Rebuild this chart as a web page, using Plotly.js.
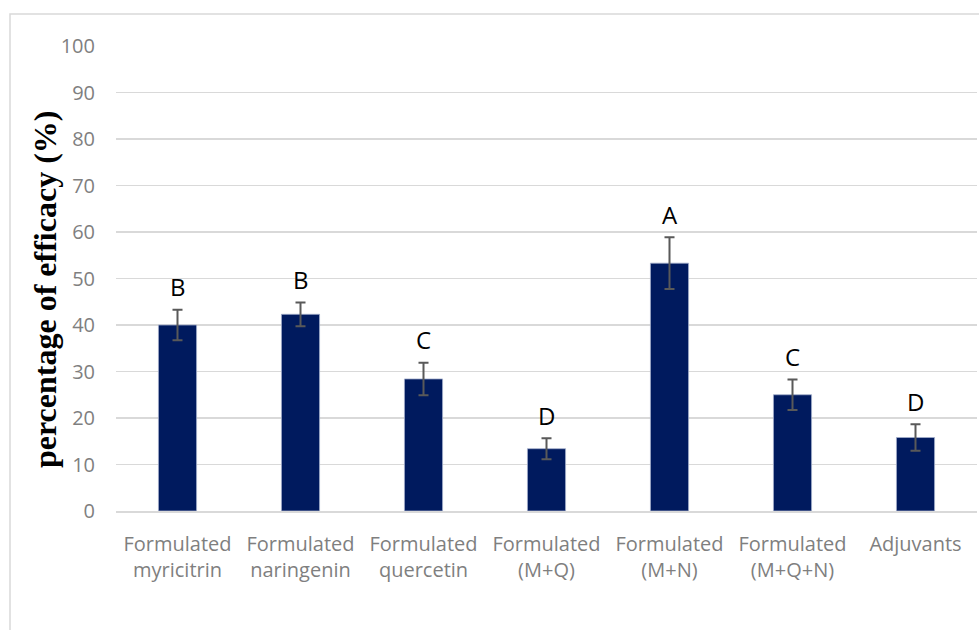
<!DOCTYPE html>
<html>
<head>
<meta charset="utf-8">
<script src="https://cdn.plot.ly/plotly-3.0.1.min.js"></script>
<style>html,body{margin:0;padding:0;background:#fff;}#chart{width:979px;height:630px;}</style>
</head>
<body>
<div id="chart"></div>
<script>
const categories = [
  "Formulated<br>myricitrin",
  "Formulated<br>naringenin",
  "Formulated<br>quercetin",
  "Formulated<br>(M+Q)",
  "Formulated<br>(M+N)",
  "Formulated<br>(M+Q+N)",
  "Adjuvants"
];
const efficacy = [40.0, 42.3, 28.4, 13.4, 53.3, 25.0, 15.8];
const errorSD = [3.3, 2.55, 3.5, 2.25, 5.55, 3.3, 2.85];
const groupLetters = ["B", "B", "C", "D", "A", "C", "D"];
const yTicks = [0, 10, 20, 30, 40, 50, 60, 70, 80, 90, 100];

const L = 116, R = 977, T = 46, B = 511, W = 979, H = 630;
const pw = R - L, ph = B - T;
const px = x => (x - L) / pw;
const py = y => (B - y) / ph;

const trace = {
  type: "bar",
  x: categories,
  y: efficacy,
  width: 0.31,
  marker: {color: "#001a5e", line: {color: "#a3aecb", width: 0.8}},
  error_y: {type: "data", array: errorSD, visible: true, color: "#595959", thickness: 2, width: 5},
  hoverinfo: "skip"
};

const annotations = categories.map((c, i) => ({
  x: c, y: efficacy[i] + errorSD[i], xref: "x", yref: "y",
  text: groupLetters[i], showarrow: false,
  yanchor: "middle", yshift: 23,
  font: {family: "Open Sans, sans-serif", size: 24, color: "#000"}
}));
annotations.push({
  xref: "paper", yref: "paper", x: px(45), y: py(290),
  text: "percentage of efficacy (%)", textangle: -90, showarrow: false,
  xanchor: "center", yanchor: "middle",
  font: {family: "Liberation Serif, Times New Roman, serif", size: 32, color: "#000", weight: "bold"}
});

const layout = {
  width: W, height: H,
  margin: {l: L, r: W - R, t: T, b: H - B, pad: 0},
  paper_bgcolor: "#fff", plot_bgcolor: "#fff",
  showlegend: false,
  bargap: 0.69,
  xaxis: {
    type: "category",
    showgrid: false, showline: true, linecolor: "#d9d9d9", linewidth: 1.5,
    ticks: "", ticklabelstandoff: 14,
    tickfont: {family: "Open Sans, sans-serif", size: 20, color: "#7f7f7f"},
    fixedrange: true
  },
  yaxis: {
    range: [0, 100], tickvals: yTicks, ticktext: yTicks.map(String),
    showgrid: true, gridcolor: "#d9d9d9", gridwidth: 1.5,
    zeroline: false, showline: false, ticks: "", ticklabelstandoff: 20,
    tickfont: {family: "Open Sans, sans-serif", size: 20, color: "#7f7f7f"},
    fixedrange: true
  },
  annotations: annotations,
  shapes: [{
    type: "rect", xref: "paper", yref: "paper",
    x0: px(10), x1: px(990), y0: py(645), y1: py(14),
    line: {color: "#d9d9d9", width: 1.5}, fillcolor: "rgba(0,0,0,0)", layer: "below"
  }]
};

Plotly.newPlot("chart", [trace], layout, {displayModeBar: false, staticPlot: true});
</script>
</body>
</html>
